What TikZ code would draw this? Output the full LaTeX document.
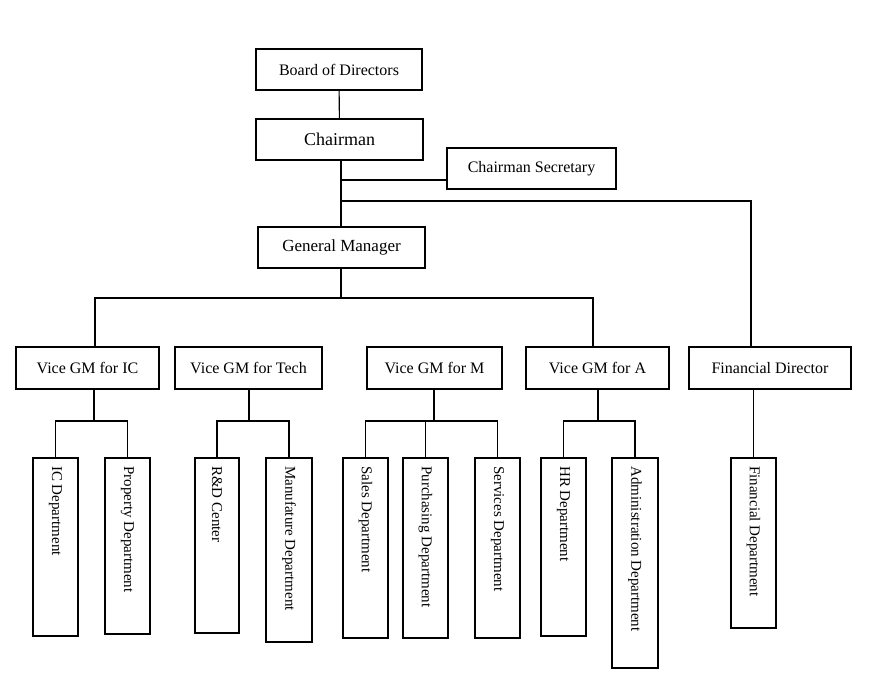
\documentclass[tikz,border=0pt]{standalone}
\usepackage{fontspec}
\setmainfont{Liberation Serif}
\begin{document}
\begin{tikzpicture}[x=1pt,y=-1pt,
  box/.style={draw,line width=1.1pt,font=\fontsize{16}{18}\selectfont},
  vt/.style={rotate=-90,anchor=west,font=\fontsize{15}{17}\selectfont,inner sep=0pt},
  ln/.style={line width=1.1pt}]
\useasboundingbox (0,0) rectangle (874,696);
\newcommand{\bx}[5]{\node[box,minimum width=#4-#2,minimum height=#5-#3] (#1) at ({(#2+#4)/2},{(#3+#5)/2}) {};}
\newcommand{\lbl}[2]{\node[font=\fontsize{16}{18}\selectfont] at (#1) {#2};}
\newcommand{\vbx}[6]{\draw[ln] (#2,#3) rectangle (#4,#5); \coordinate (#1) at ({(#2+#4)/2},#3); \node[vt] at ({(#2+#4)/2},{#3+8}) {#6};}
\bx{bod}{256}{49}{422}{90} \lbl{bod}{Board of Directors}
\bx{ch}{256}{119}{423}{160} \node[font=\fontsize{18}{20}\selectfont] at (ch) {Chairman};
\bx{cs}{447}{148}{616}{189} \lbl{cs}{Chairman Secretary}
\bx{gm}{258}{227}{425}{268} \node[font=\fontsize{17}{19}\selectfont] at (gm) {General Manager};
\bx{vic}{16}{347}{159}{389} \lbl{vic}{Vice GM for IC}
\bx{vt}{175}{347}{322}{389} \lbl{vt}{Vice GM for Tech}
\bx{vm}{367}{347}{502}{389} \lbl{vm}{Vice GM for M}
\bx{va}{526}{347}{669}{389} \lbl{va}{Vice GM for A}
\bx{fd}{689}{347}{851}{389} \lbl{fd}{Financial Director}
\draw[ln] (bod) -- (ch);
\draw[ln] (ch.south -| 341,0) -- (gm.north -| 341,0);
\draw[ln] (341,180) -- (cs.west |- 341,180);
\draw[ln] (341,201) -- (751,201) -- (fd.north -| 751,0);
\draw[ln] (gm.south -| 341,0) -- (341,298);
\draw[ln] (95,347) -- (95,298) -- (593,298) -- (593,347);
% IC
\vbx{d1}{33}{458}{78}{636}{IC Department}
\vbx{d2}{105}{458}{150}{634}{Property Department}
\draw[ln] (vic.south -| 94,0) -- (94,421); \draw[ln] (d1) -- (55.5,421) -- (127.5,421) -- (d2);
% Tech
\vbx{d3}{195}{458}{239}{633}{R\&D Center}
\vbx{d4}{266}{458}{312}{642}{Manufature Department}
\draw[ln] (vt.south -| 249,0) -- (249,421); \draw[ln] (d3) -- (217,421) -- (289,421) -- (d4);
% M
\vbx{d5}{343}{458}{388}{638}{Sales Department}
\vbx{d6}{403}{458}{448}{638}{Purchasing Department}
\vbx{d7}{475}{458}{520}{638}{Services Department}
\draw[ln] (vm.south -| 434,0) -- (434,421); \draw[ln] (d5) -- (365.5,421) -- (497.5,421) -- (d7); \draw[ln] (d6) -- (425.5,421);
% A
\vbx{d8}{541}{458}{586}{636}{HR Department}
\vbx{d9}{612}{458}{658}{668}{Administration Department}
\draw[ln] (va.south -| 598,0) -- (598,421); \draw[ln] (d8) -- (563.5,421) -- (635,421) -- (d9);
% Fin
\vbx{d10}{731}{458}{776}{628}{Financial Department}
\draw[ln] (fd.south -| 753.5,0) -- (d10);
\end{tikzpicture}
\end{document}
